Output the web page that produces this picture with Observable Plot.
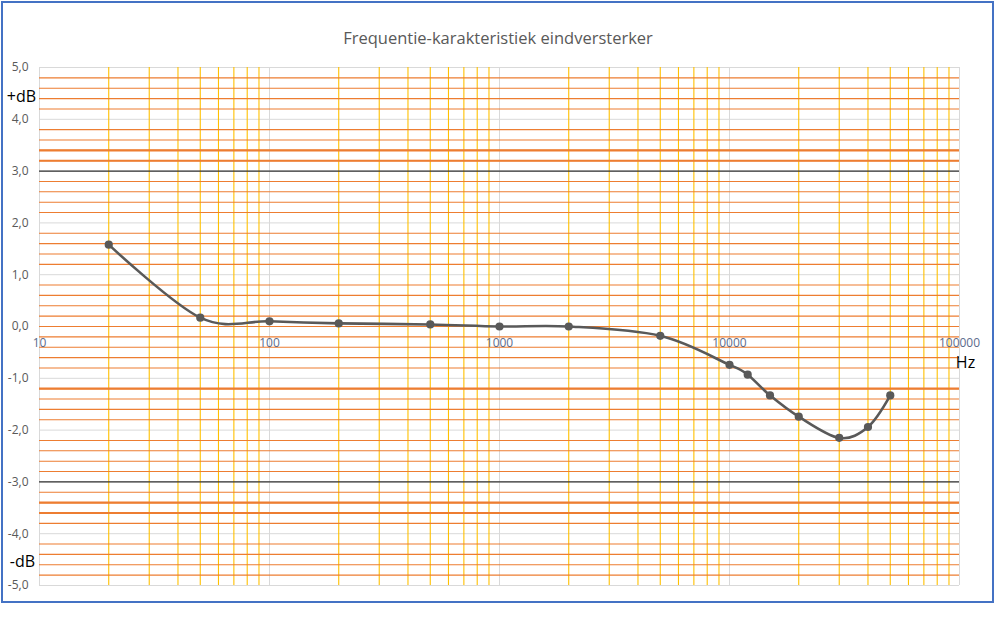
<!DOCTYPE html>
<html><head><meta charset="utf-8">
<script src="https://cdn.jsdelivr.net/npm/d3@7"></script>
<script src="https://cdn.jsdelivr.net/npm/@observablehq/plot@0.6"></script>
<style>
body{margin:0;background:#fff;}
#wrap{position:relative;width:1008px;height:630px;overflow:hidden;}
#frame{position:absolute;left:1px;top:1px;width:989px;height:598px;border:2.5px solid #4472C4;pointer-events:none;}
#title{position:absolute;left:0;width:996px;top:26px;text-align:center;font:16.5px "Open Sans";color:#595959;}
#chart svg{position:absolute;left:0;top:0;}
</style></head>
<body>
<div id="wrap"><div id="chart"></div><div id="title">Frequentie-karakteristiek eindversterker</div><div id="frame"></div></div>
<script>
// measured data (Hz, dB)
const freq = [20, 50, 100, 200, 500, 1000, 2000, 5000, 10000, 12000, 15000, 20000, 30000, 40000, 50000];
const gain = [1.58, 0.17, 0.10, 0.06, 0.04, 0.0, 0.0, -0.18, -0.74, -0.93, -1.33, -1.74, -2.15, -1.94, -1.33];

// axes / grid
const yTicks = [-5, -4, -3, -2, -1, 0, 1, 2, 3, 4, 5];
const xTicks = [10, 100, 1000, 10000, 100000];
const xTickLabels = ["10", "100", "1000", "10000", "100000"];
const multipliers = [2, 3, 4, 5, 6, 7, 8, 9];
const orangeThick = [3.4, 3.2, -1.2, -3.4, -3.6];
const blackLevels = [3, -3];

const yellowFreq = xTicks.slice(0, -1).flatMap(d => multipliers.map(m => d * m));
const orangeLevels = d3.range(-24, 25).map(i => +(i * 0.2).toFixed(1)).filter(v => !Number.isInteger(v) || v === 0);
const data = freq.map((f, i) => ({f, g: gain[i]}));
const fmt = v => v.toFixed(1).replace(".", ",");
const xlab = xTicks.map((t, i) => ({t, label: xTickLabels[i]}));

const chart = Plot.plot({
  width: 1008, height: 630,
  marginLeft: 39, marginRight: 49, marginTop: 67, marginBottom: 45,
  style: {fontFamily: "Open Sans", background: "transparent"},
  x: {type: "log", domain: [10, 100000], axis: null},
  y: {domain: [-5, 5], axis: null},
  marks: [
    Plot.ruleY(yTicks, {stroke: "#d9d9d9", strokeWidth: 1}),
    Plot.ruleX(xTicks, {stroke: "#d9d9d9", strokeWidth: 1}),
    Plot.ruleX(yellowFreq, {stroke: "#FFC000", strokeWidth: 1.1}),
    Plot.ruleY(orangeLevels, {stroke: "#ED7D31", strokeWidth: 1.1}),
    Plot.ruleY(orangeThick, {stroke: "#ED7D31", strokeWidth: 2.2}),
    Plot.ruleY(blackLevels, {stroke: "#333333", strokeWidth: 1.4}),
    Plot.line(data, {x: "f", y: "g", curve: "cardinal", stroke: "#595959", strokeWidth: 2.6}),
    Plot.dot(data, {x: "f", y: "g", r: 4.1, fill: "#595959", stroke: "none"}),
    Plot.text(yTicks, {x: 10, y: d => d, text: fmt, dx: -11, textAnchor: "end", fill: "#595959", fontSize: 12}),
    Plot.text(xlab, {x: "t", y: 0, text: "label", dy: 17, fill: "#5b6b8c", fontSize: 12, textAnchor: "middle"}),
    Plot.text(["+dB"], {x: 10, y: 4.44, text: d => d, dx: -18, fill: "#000", fontSize: 16, textAnchor: "middle"}),
    Plot.text(["-dB"], {x: 10, y: -4.54, text: d => d, dx: -17, fill: "#000", fontSize: 16, textAnchor: "middle"}),
    Plot.text(["Hz"], {x: 100000, y: -0.71, text: d => d, dx: 6, fill: "#000", fontSize: 16, textAnchor: "middle"})
  ]
});
document.getElementById("chart").appendChild(chart);
</script>
</body></html>
